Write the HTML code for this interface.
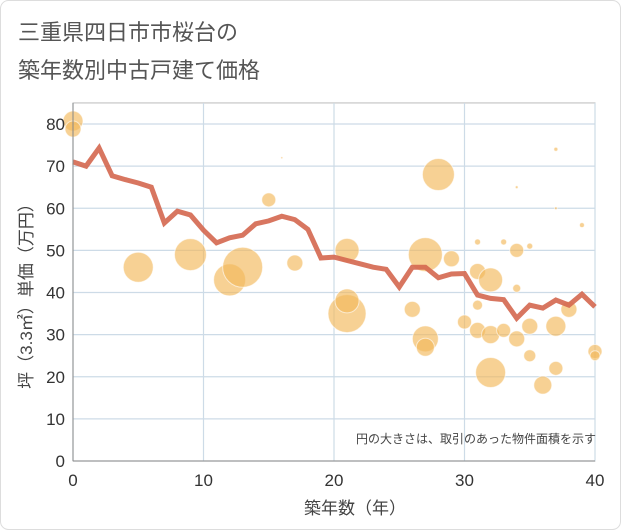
<!DOCTYPE html>
<html><head><meta charset="utf-8"><style>
body{margin:0;background:#fff;}
svg{display:block;font-family:"Liberation Sans","Noto Sans CJK JP",sans-serif;}
</style></head><body>
<svg id="c" width="621" height="530">
<rect x="0.5" y="0.5" width="620" height="529" rx="8" fill="#fff" stroke="#ddd"/>
<text x="18" y="40" font-size="22" fill="#555">三重県四日市市桜台の</text>
<text x="18" y="78" font-size="22" fill="#555">築年数別中古戸建て価格</text>
<g id="grid"></g>
<g id="bubbles"></g>
<g id="line"></g>
<g id="axes"></g>
<text x="596" y="443" font-size="12" fill="#444" text-anchor="end">円の大きさは、取引のあった物件面積を示す</text>
<text x="355" y="514" font-size="17" fill="#444" text-anchor="middle">築年数（年）</text>
<text transform="translate(32,292) rotate(-90)" font-size="17" fill="#444" text-anchor="middle">坪（3.3㎡）単価（万円）</text>
</svg>
<script>
const xTicks=[0,10,20,30,40];
const yTicks=[0,10,20,30,40,50,60,70,80];
const lineYears=[0,1,2,3,4,5,6,7,8,9,10,11,12,13,14,15,16,17,18,19,20,21,22,23,24,25,26,27,28,29,30,31,32,33,34,35,36,37,38,39,40];
const lineVals=[71,70,74.3,67.7,66.8,66,65,56.5,59.3,58.4,54.8,51.8,53,53.6,56.3,57,58.1,57.3,55,48.2,48.4,47.6,46.8,46,45.5,41.3,46,46,43.5,44.4,44.5,39.4,38.6,38.3,33.9,37,36.3,38.2,37,39.6,36.6];
const bubX=[0,0,5,9,12,13,15,16,17,21,21,21,27,26,27,27,28,29,30,31,31,31,31,32,32,32,33,33,34,34,34,34,35,35,35,36,37,37,37,37,38,39,40,40];
const bubY=[80.7,78.8,46,49,43,46,62,72,47,50,35,38,49,36,29,27,68,48,33,52,45,37,31,43,30,21,52,31,50,65,41,29,51,32,25,18,74,60,32,22,36,56,26,25];
const bubArea=[100,64,225,256,256,400,49,1,64,144,361,144,289,64,169,81,256,64,49,9,64,25,64,144,81,225,9,49,49,2,16,64,9,64,36,81,4,2,100,49,64,6,49,25];
const X0=73,X1=595,Y0=461,Y1=124;
const sx=v=>X0+(v-0)/40*(X1-X0);
const sy=v=>Y0-(v/80)*(Y0-Y1)*80/80;
const NS="http://www.w3.org/2000/svg";
function mk(t,a,p){const e=document.createElementNS(NS,t);for(const k in a)e.setAttribute(k,a[k]);p.appendChild(e);return e;}
const grid=document.getElementById('grid'),axes=document.getElementById('axes');
const yTop=Y0-85/80*(Y0-Y1);
mk('rect',{x:X0,y:yTop,width:X1-X0,height:Y0-yTop,fill:'none',stroke:'#bbb'},grid);
yTicks.forEach(v=>{
 const l=mk('line',{x1:X0,x2:X1,y1:sy(v),y2:sy(v),stroke:'#cddbe7','stroke-width':1.2},grid);
 
 
 const t=mk('text',{x:X0-8,y:sy(v)+6,'font-size':17,fill:'#333','text-anchor':'end'},axes);
 t.textContent=v;
 
 
});
xTicks.forEach(v=>{
 const l=mk('line',{x1:sx(v),x2:sx(v),y1:yTop,y2:Y0,stroke:'#cddbe7','stroke-width':1.2},grid);
 
 
 const t=mk('text',{x:sx(v),y:Y0+25,'font-size':17,fill:'#333','text-anchor':'middle'},axes);
 t.textContent=v;
 
 
});
mk('line',{x1:X0,x2:X0,y1:yTop,y2:Y0,stroke:'#888'},axes);
mk('line',{x1:X0,x2:X1,y1:Y0,y2:Y0,stroke:'#888'},axes);
const bg=document.getElementById('bubbles');
bubX.forEach((x,i)=>{
 const c=mk('circle',{cx:sx(x),cy:sy(bubY[i]),r:Math.sqrt(bubArea[i]),fill:'#f2b95a','fill-opacity':0.65,stroke:'#fff','stroke-opacity':0.6,'stroke-width':1},bg);
 
 
});
const lg=document.getElementById('line');
const p=mk('polyline',{points:lineYears.map((y,i)=>sx(y)+','+sy(lineVals[i])).join(' '),fill:'none',stroke:'#d4674f','stroke-width':5,'stroke-linejoin':'miter','stroke-opacity':0.9},lg);


</script>
</body></html>
